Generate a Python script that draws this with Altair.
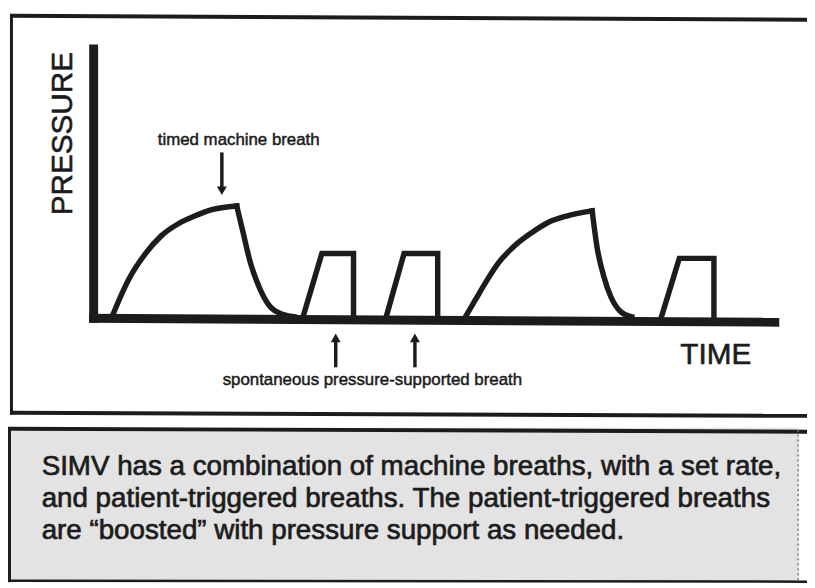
import altair as alt
import pandas as pd

# ---------------- values ----------------
# Pressure waveform: time and pressure in arbitrary units
curve_segment = (["machine 1 rise"] * 8 + ["machine 1 fall"] * 7 +
                 ["machine 2 rise"] * 9 + ["machine 2 fall"] * 6)
curve_time = [1.8, 3.5, 5.2, 6.8, 8.5, 10.2, 11.8, 14.4,
              14.4, 15.0, 15.8, 16.8, 17.8, 19.2, 20.2,
              37.5, 38.5, 39.5, 40.8, 42.5, 44.2, 45.8, 47.8, 50.3,
              50.3, 50.8, 51.5, 52.2, 53.2, 54.3]
curve_pressure = [0, 3.8, 6.4, 8.2, 9.4, 10.2, 10.8, 11.2,
                  11.2, 8.7, 5.4, 2.7, 1.0, 0.2, 0,
                  0, 1.7, 3.4, 5.4, 7.2, 8.5, 9.5, 10.2, 10.7,
                  10.7, 7.0, 4.0, 2.0, 0.5, 0]

ps_segment = ["support 1"] * 4 + ["support 2"] * 4 + ["support 3"] * 4
ps_time = [21.1, 23.0, 26.2, 26.2, 29.5, 31.3, 34.7, 34.7, 57.3, 59.1, 62.6, 62.6]
ps_pressure = [0, 6.4, 6.4, 0, 0, 6.4, 6.4, 0, 0, 5.9, 5.9, 0]

# Texts
y_title = "PRESSURE"
x_title = "TIME"
machine_label = "timed machine breath"
support_label = "spontaneous pressure-supported breath"
caption_lines = [
    "SIMV has a combination of machine breaths, with a set rate,",
    "and patient-triggered breaths. The patient-triggered breaths",
    "are \u201cboosted\u201d with pressure support as needed.",
]

# ---------------- styling ----------------
INK = "#1c1c1c"
FONT = "Liberation Sans"
W, H = 807, 580

curve_df = pd.DataFrame({"t": curve_time, "p": curve_pressure,
                         "seg": curve_segment, "i": range(len(curve_time))})
ps_df = pd.DataFrame({"t": ps_time, "p": ps_pressure,
                      "seg": ps_segment, "i": range(len(ps_time))})

xs = alt.Scale(domain=[0, 70], range=[87, 787], nice=False, zero=False)
ys = alt.Scale(domain=[0, 12], range=[309, 189], nice=False, zero=False)

one = alt.Data(values=[{"k": 0}])


def rule(x, y, x2, y2, w, color=INK, dash=None):
    kw = dict(color=color, strokeWidth=w, strokeCap="butt")
    if dash:
        kw["strokeDash"] = dash
    return alt.Chart(one).mark_rule(**kw).encode(
        x=alt.value(x), y=alt.value(y), x2=alt.value(x2), y2=alt.value(y2))


def text(s, x, y, size, align="left", angle=0, weight=0.6):
    kw = dict(text=s, font=FONT, fontSize=size, color=INK, align=align,
              baseline="alphabetic", stroke=INK, strokeWidth=weight)
    if angle:
        kw["angle"] = angle
    return alt.Chart(one).mark_text(**kw).encode(x=alt.value(x), y=alt.value(y))


def head(x, y, shape):
    return alt.Chart(one).mark_point(shape=shape, filled=True, size=100,
                                     color=INK, opacity=1).encode(
        x=alt.value(x), y=alt.value(y))


layers = []

# caption box
layers.append(alt.Chart(one).mark_rect(color="#e3e3e3").encode(
    x=alt.value(1), x2=alt.value(799), y=alt.value(421), y2=alt.value(576)))
layers.append(rule(0, 422, 807, 425, 4))
layers.append(rule(1.5, 421, 1.5, 577, 3))
layers.append(rule(0, 575.5, 807, 576.5, 2.5))
layers.append(rule(798, 423, 798, 576, 1.5, color="#777777", dash=[2, 3]))

# frame of the diagram
layers.append(rule(2, 5, 807, 9, 4))
layers.append(rule(3.5, 4, 3.5, 408, 3))
layers.append(rule(2, 406, 807, 409, 4))

# axes
layers.append(rule(86.5, 34, 86.5, 315, 9))
layers.append(rule(82, 310.5, 779, 314.5, 9))

# waveform
layers.append(alt.Chart(ps_df).mark_line(color=INK, strokeWidth=5.5,
                                          strokeCap="square", strokeJoin="miter").encode(
    x=alt.X("t:Q", scale=xs, axis=None),
    y=alt.Y("p:Q", scale=ys, axis=None),
    detail="seg:N", order="i:Q"))
layers.append(alt.Chart(curve_df).mark_line(color=INK, strokeWidth=5.5,
                                             interpolate="monotone",
                                             strokeCap="square").encode(
    x=alt.X("t:Q", scale=xs, axis=None),
    y=alt.Y("p:Q", scale=ys, axis=None),
    detail="seg:N", order="i:Q"))

# arrows
layers.append(rule(216, 143, 216, 181, 3.5))
layers.append(head(216, 181.7, "triangle-down"))
for ax in (331, 411):
    layers.append(rule(ax, 331, ax, 360, 3.5))
    layers.append(head(ax, 330.3, "triangle-up"))

# labels
layers.append(text(y_title, 65, 124, 30, align="center", angle=270))
layers.append(text(x_title, 679, 357, 30))
layers.append(text(machine_label, 233, 135, 17, align="center", weight=0.5))
layers.append(text(support_label, 368, 378, 17, align="center", weight=0.5))
for k, line in enumerate(caption_lines):
    layers.append(text(line, 34, 469 + 32 * k, 28, weight=0.7))

chart = alt.layer(*layers).properties(
    width=W, height=H, padding=0,
    autosize=alt.AutoSizeParams(type="none"),
    background="white",
).configure_view(stroke=None)

chart.save("out.html", embed_options={"renderer": "svg", "actions": False})
